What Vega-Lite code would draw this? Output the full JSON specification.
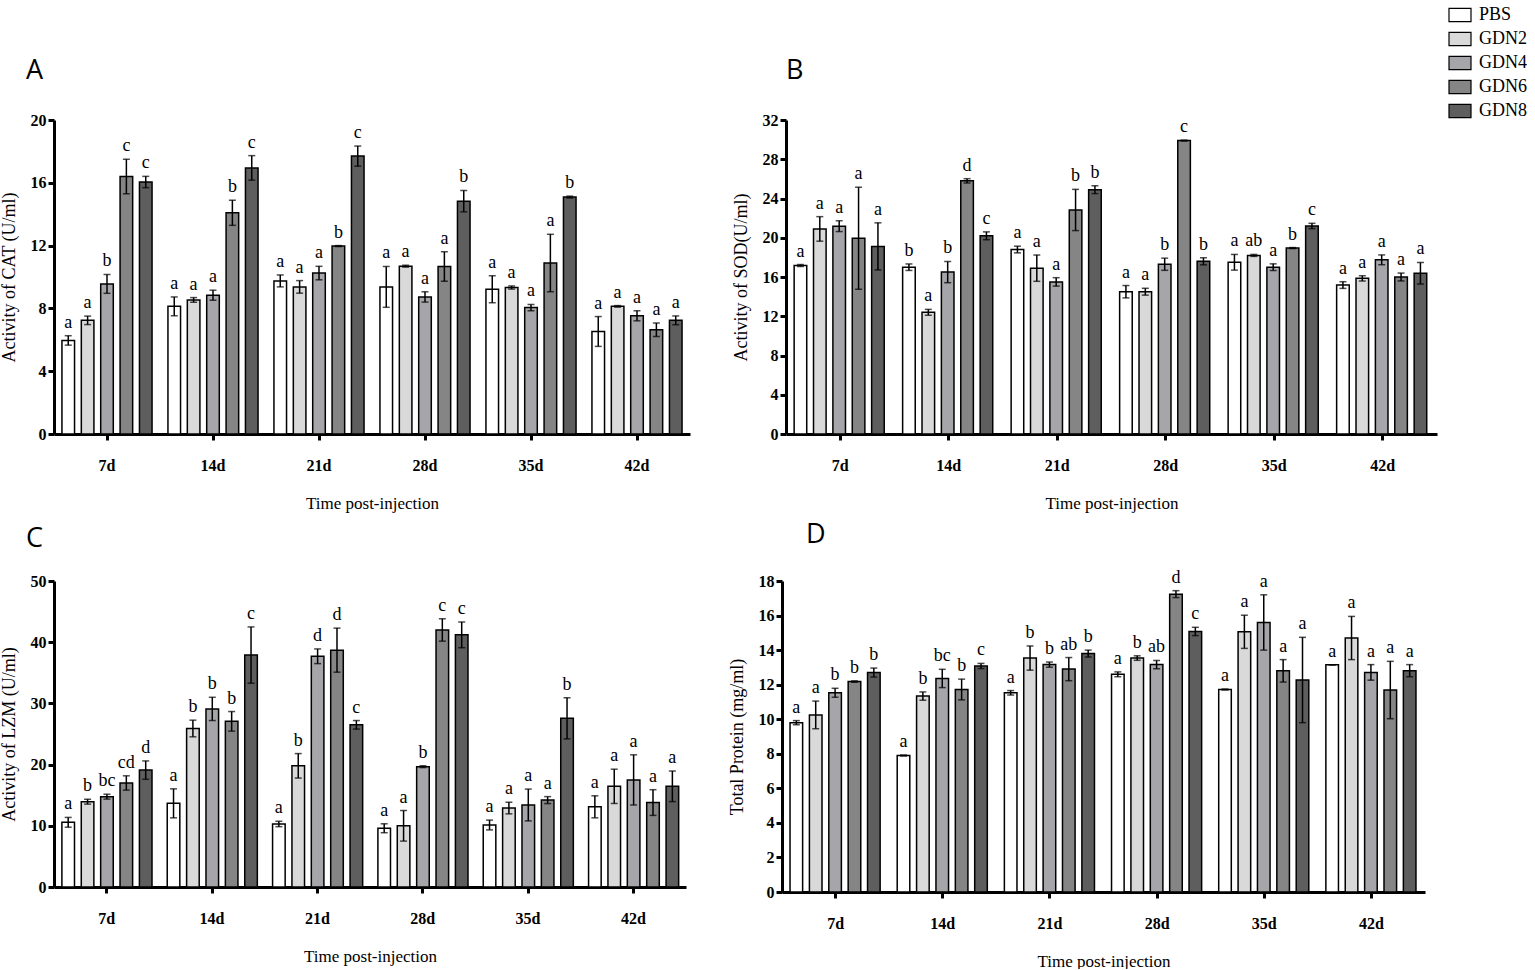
{
  "$schema": "https://vega.github.io/schema/vega-lite/v6.json",
  "background": "white",
  "padding": {"left": 0, "top": 3, "right": 0, "bottom": 0},
  "datasets": {
    "cat": [
      {"time": "7d", "group": "PBS", "mean": 5.96, "sd": 0.3, "sig": "a"},
      {"time": "7d", "group": "GDN2", "mean": 7.24, "sd": 0.27, "sig": "a"},
      {"time": "7d", "group": "GDN4", "mean": 9.56, "sd": 0.6, "sig": "b"},
      {"time": "7d", "group": "GDN6", "mean": 16.4, "sd": 1.1, "sig": "c"},
      {"time": "7d", "group": "GDN8", "mean": 16.05, "sd": 0.36, "sig": "c"},
      {"time": "14d", "group": "PBS", "mean": 8.13, "sd": 0.6, "sig": "a"},
      {"time": "14d", "group": "GDN2", "mean": 8.54, "sd": 0.15, "sig": "a"},
      {"time": "14d", "group": "GDN4", "mean": 8.84, "sd": 0.32, "sig": "a"},
      {"time": "14d", "group": "GDN6", "mean": 14.09, "sd": 0.8, "sig": "b"},
      {"time": "14d", "group": "GDN8", "mean": 16.95, "sd": 0.78, "sig": "c"},
      {"time": "21d", "group": "PBS", "mean": 9.75, "sd": 0.38, "sig": "a"},
      {"time": "21d", "group": "GDN2", "mean": 9.37, "sd": 0.4, "sig": "a"},
      {"time": "21d", "group": "GDN4", "mean": 10.25, "sd": 0.43, "sig": "a"},
      {"time": "21d", "group": "GDN6", "mean": 11.97, "sd": 0.03, "sig": "b"},
      {"time": "21d", "group": "GDN8", "mean": 17.7, "sd": 0.64, "sig": "c"},
      {"time": "28d", "group": "PBS", "mean": 9.37, "sd": 1.3, "sig": "a"},
      {"time": "28d", "group": "GDN2", "mean": 10.69, "sd": 0.06, "sig": "a"},
      {"time": "28d", "group": "GDN4", "mean": 8.73, "sd": 0.33, "sig": "a"},
      {"time": "28d", "group": "GDN6", "mean": 10.67, "sd": 0.94, "sig": "a"},
      {"time": "28d", "group": "GDN8", "mean": 14.83, "sd": 0.68, "sig": "b"},
      {"time": "35d", "group": "PBS", "mean": 9.22, "sd": 0.86, "sig": "a"},
      {"time": "35d", "group": "GDN2", "mean": 9.33, "sd": 0.1, "sig": "a"},
      {"time": "35d", "group": "GDN4", "mean": 8.05, "sd": 0.2, "sig": "a"},
      {"time": "35d", "group": "GDN6", "mean": 10.89, "sd": 1.83, "sig": "a"},
      {"time": "35d", "group": "GDN8", "mean": 15.09, "sd": 0.06, "sig": "b"},
      {"time": "42d", "group": "PBS", "mean": 6.53, "sd": 0.95, "sig": "a"},
      {"time": "42d", "group": "GDN2", "mean": 8.13, "sd": 0.05, "sig": "a"},
      {"time": "42d", "group": "GDN4", "mean": 7.53, "sd": 0.32, "sig": "a"},
      {"time": "42d", "group": "GDN6", "mean": 6.64, "sd": 0.43, "sig": "a"},
      {"time": "42d", "group": "GDN8", "mean": 7.24, "sd": 0.28, "sig": "a"}
    ],
    "sod": [
      {"time": "7d", "group": "PBS", "mean": 17.17, "sd": 0.1, "sig": "a"},
      {"time": "7d", "group": "GDN2", "mean": 20.9, "sd": 1.25, "sig": "a"},
      {"time": "7d", "group": "GDN4", "mean": 21.18, "sd": 0.55, "sig": "a"},
      {"time": "7d", "group": "GDN6", "mean": 19.95, "sd": 5.2, "sig": "a"},
      {"time": "7d", "group": "GDN8", "mean": 19.12, "sd": 2.4, "sig": "a"},
      {"time": "14d", "group": "PBS", "mean": 17.0, "sd": 0.33, "sig": "b"},
      {"time": "14d", "group": "GDN2", "mean": 12.4, "sd": 0.3, "sig": "a"},
      {"time": "14d", "group": "GDN4", "mean": 16.5, "sd": 1.08, "sig": "b"},
      {"time": "14d", "group": "GDN6", "mean": 25.8, "sd": 0.22, "sig": "d"},
      {"time": "14d", "group": "GDN8", "mean": 20.2, "sd": 0.4, "sig": "c"},
      {"time": "21d", "group": "PBS", "mean": 18.8, "sd": 0.34, "sig": "a"},
      {"time": "21d", "group": "GDN2", "mean": 16.9, "sd": 1.34, "sig": "a"},
      {"time": "21d", "group": "GDN4", "mean": 15.5, "sd": 0.43, "sig": "a"},
      {"time": "21d", "group": "GDN6", "mean": 22.83, "sd": 2.1, "sig": "b"},
      {"time": "21d", "group": "GDN8", "mean": 24.9, "sd": 0.4, "sig": "b"},
      {"time": "28d", "group": "PBS", "mean": 14.5, "sd": 0.63, "sig": "a"},
      {"time": "28d", "group": "GDN2", "mean": 14.5, "sd": 0.35, "sig": "a"},
      {"time": "28d", "group": "GDN4", "mean": 17.3, "sd": 0.62, "sig": "b"},
      {"time": "28d", "group": "GDN6", "mean": 29.9, "sd": 0.05, "sig": "c"},
      {"time": "28d", "group": "GDN8", "mean": 17.6, "sd": 0.36, "sig": "b"},
      {"time": "35d", "group": "PBS", "mean": 17.5, "sd": 0.8, "sig": "a"},
      {"time": "35d", "group": "GDN2", "mean": 18.2, "sd": 0.1, "sig": "ab"},
      {"time": "35d", "group": "GDN4", "mean": 17.0, "sd": 0.34, "sig": "a"},
      {"time": "35d", "group": "GDN6", "mean": 18.95, "sd": 0.05, "sig": "b"},
      {"time": "35d", "group": "GDN8", "mean": 21.2, "sd": 0.27, "sig": "c"},
      {"time": "42d", "group": "PBS", "mean": 15.18, "sd": 0.34, "sig": "a"},
      {"time": "42d", "group": "GDN2", "mean": 15.86, "sd": 0.27, "sig": "a"},
      {"time": "42d", "group": "GDN4", "mean": 17.75, "sd": 0.5, "sig": "a"},
      {"time": "42d", "group": "GDN6", "mean": 16.0, "sd": 0.4, "sig": "a"},
      {"time": "42d", "group": "GDN8", "mean": 16.38, "sd": 1.1, "sig": "a"}
    ],
    "lzm": [
      {"time": "7d", "group": "PBS", "mean": 10.57, "sd": 0.8, "sig": "a"},
      {"time": "7d", "group": "GDN2", "mean": 13.94, "sd": 0.4, "sig": "b"},
      {"time": "7d", "group": "GDN4", "mean": 14.76, "sd": 0.4, "sig": "bc"},
      {"time": "7d", "group": "GDN6", "mean": 17.0, "sd": 1.17, "sig": "cd"},
      {"time": "7d", "group": "GDN8", "mean": 19.1, "sd": 1.5, "sig": "d"},
      {"time": "14d", "group": "PBS", "mean": 13.67, "sd": 2.37, "sig": "a"},
      {"time": "14d", "group": "GDN2", "mean": 25.9, "sd": 1.36, "sig": "b"},
      {"time": "14d", "group": "GDN4", "mean": 29.1, "sd": 1.9, "sig": "b"},
      {"time": "14d", "group": "GDN6", "mean": 27.07, "sd": 1.6, "sig": "b"},
      {"time": "14d", "group": "GDN8", "mean": 37.9, "sd": 4.6, "sig": "c"},
      {"time": "21d", "group": "PBS", "mean": 10.3, "sd": 0.44, "sig": "a"},
      {"time": "21d", "group": "GDN2", "mean": 19.8, "sd": 2.0, "sig": "b"},
      {"time": "21d", "group": "GDN4", "mean": 37.7, "sd": 1.2, "sig": "d"},
      {"time": "21d", "group": "GDN6", "mean": 38.7, "sd": 3.6, "sig": "d"},
      {"time": "21d", "group": "GDN8", "mean": 26.5, "sd": 0.7, "sig": "c"},
      {"time": "28d", "group": "PBS", "mean": 9.6, "sd": 0.73, "sig": "a"},
      {"time": "28d", "group": "GDN2", "mean": 10.0, "sd": 2.5, "sig": "a"},
      {"time": "28d", "group": "GDN4", "mean": 19.66, "sd": 0.15, "sig": "b"},
      {"time": "28d", "group": "GDN6", "mean": 42.0, "sd": 1.83, "sig": "c"},
      {"time": "28d", "group": "GDN8", "mean": 41.2, "sd": 2.1, "sig": "c"},
      {"time": "35d", "group": "PBS", "mean": 10.13, "sd": 0.8, "sig": "a"},
      {"time": "35d", "group": "GDN2", "mean": 12.9, "sd": 0.95, "sig": "a"},
      {"time": "35d", "group": "GDN4", "mean": 13.4, "sd": 2.6, "sig": "a"},
      {"time": "35d", "group": "GDN6", "mean": 14.2, "sd": 0.57, "sig": "a"},
      {"time": "35d", "group": "GDN8", "mean": 27.56, "sd": 3.36, "sig": "b"},
      {"time": "42d", "group": "PBS", "mean": 13.1, "sd": 1.8, "sig": "a"},
      {"time": "42d", "group": "GDN2", "mean": 16.45, "sd": 2.8, "sig": "a"},
      {"time": "42d", "group": "GDN4", "mean": 17.5, "sd": 4.1, "sig": "a"},
      {"time": "42d", "group": "GDN6", "mean": 13.8, "sd": 2.1, "sig": "a"},
      {"time": "42d", "group": "GDN8", "mean": 16.45, "sd": 2.5, "sig": "a"}
    ],
    "tp": [
      {"time": "7d", "group": "PBS", "mean": 9.8, "sd": 0.12, "sig": "a"},
      {"time": "7d", "group": "GDN2", "mean": 10.25, "sd": 0.8, "sig": "a"},
      {"time": "7d", "group": "GDN4", "mean": 11.53, "sd": 0.26, "sig": "b"},
      {"time": "7d", "group": "GDN6", "mean": 12.18, "sd": 0.04, "sig": "b"},
      {"time": "7d", "group": "GDN8", "mean": 12.7, "sd": 0.26, "sig": "b"},
      {"time": "14d", "group": "PBS", "mean": 7.9, "sd": 0.03, "sig": "a"},
      {"time": "14d", "group": "GDN2", "mean": 11.34, "sd": 0.24, "sig": "b"},
      {"time": "14d", "group": "GDN4", "mean": 12.36, "sd": 0.53, "sig": "bc"},
      {"time": "14d", "group": "GDN6", "mean": 11.72, "sd": 0.6, "sig": "b"},
      {"time": "14d", "group": "GDN8", "mean": 13.08, "sd": 0.15, "sig": "c"},
      {"time": "21d", "group": "PBS", "mean": 11.53, "sd": 0.13, "sig": "a"},
      {"time": "21d", "group": "GDN2", "mean": 13.54, "sd": 0.7, "sig": "b"},
      {"time": "21d", "group": "GDN4", "mean": 13.16, "sd": 0.15, "sig": "b"},
      {"time": "21d", "group": "GDN6", "mean": 12.9, "sd": 0.67, "sig": "ab"},
      {"time": "21d", "group": "GDN8", "mean": 13.8, "sd": 0.2, "sig": "b"},
      {"time": "28d", "group": "PBS", "mean": 12.6, "sd": 0.14, "sig": "a"},
      {"time": "28d", "group": "GDN2", "mean": 13.54, "sd": 0.13, "sig": "b"},
      {"time": "28d", "group": "GDN4", "mean": 13.16, "sd": 0.24, "sig": "ab"},
      {"time": "28d", "group": "GDN6", "mean": 17.24, "sd": 0.2, "sig": "d"},
      {"time": "28d", "group": "GDN8", "mean": 15.08, "sd": 0.24, "sig": "c"},
      {"time": "35d", "group": "PBS", "mean": 11.72, "sd": 0.03, "sig": "a"},
      {"time": "35d", "group": "GDN2", "mean": 15.06, "sd": 0.96, "sig": "a"},
      {"time": "35d", "group": "GDN4", "mean": 15.6, "sd": 1.6, "sig": "a"},
      {"time": "35d", "group": "GDN6", "mean": 12.8, "sd": 0.65, "sig": "a"},
      {"time": "35d", "group": "GDN8", "mean": 12.27, "sd": 2.47, "sig": "a"},
      {"time": "42d", "group": "PBS", "mean": 13.15, "sd": 0.0, "sig": "a"},
      {"time": "42d", "group": "GDN2", "mean": 14.7, "sd": 1.25, "sig": "a"},
      {"time": "42d", "group": "GDN4", "mean": 12.71, "sd": 0.45, "sig": "a"},
      {"time": "42d", "group": "GDN6", "mean": 11.69, "sd": 1.66, "sig": "a"},
      {"time": "42d", "group": "GDN8", "mean": 12.81, "sd": 0.35, "sig": "a"}
    ]
  },
  "spacing": 9,
  "vconcat": [
    {
      "spacing": 42,
      "hconcat": [
        {
          "width": 636,
          "height": 314,
          "title": {"text": "A", "dx": -28, "offset": 27},
          "data": {"name": "cat"},
          "transform": [
            {"calculate": "datum.mean - datum.sd", "as": "lo"},
            {"calculate": "datum.mean + datum.sd", "as": "hi"}
          ],
          "encoding": {
            "x": {"field": "time", "type": "nominal", "sort": ["7d", "14d", "21d", "28d", "35d", "42d"], "title": "Time post-injection", "scale": {"paddingInner": 0.15, "paddingOuter": 0.075}},
            "xOffset": {"field": "group", "type": "nominal", "sort": ["PBS", "GDN2", "GDN4", "GDN6", "GDN8"], "scale": {"paddingInner": 0.35}}
          },
          "layer": [
            {
              "mark": {"type": "bar", "stroke": "black", "strokeWidth": 1.5},
              "encoding": {
                "y": {"field": "mean", "type": "quantitative", "title": "Activity of CAT (U/ml)", "scale": {"domain": [0, 20], "nice": false}, "axis": {"values": [0, 4, 8, 12, 16, 20]}},
                "color": {"field": "group", "type": "nominal", "title": null, "scale": {"domain": ["PBS", "GDN2", "GDN4", "GDN6", "GDN8"], "range": ["#ffffff", "#d9d9d9", "#a6a6aa", "#858585", "#5e5e5e"]}}
              }
            },
            {"mark": {"type": "rule", "strokeWidth": 1.5, "color": "black"}, "encoding": {"y": {"field": "lo", "type": "quantitative", "title": "Activity of CAT (U/ml)", "scale": {"domain": [0, 20], "nice": false}, "axis": {"values": [0, 4, 8, 12, 16, 20]}}, "y2": {"field": "hi"}}},
            {"mark": {"type": "tick", "thickness": 1.5, "size": 7, "color": "black"}, "encoding": {"y": {"field": "hi", "type": "quantitative", "title": "Activity of CAT (U/ml)", "scale": {"domain": [0, 20], "nice": false}, "axis": {"values": [0, 4, 8, 12, 16, 20]}}}},
            {"mark": {"type": "tick", "thickness": 1.5, "size": 7, "color": "black"}, "encoding": {"y": {"field": "lo", "type": "quantitative", "title": "Activity of CAT (U/ml)", "scale": {"domain": [0, 20], "nice": false}, "axis": {"values": [0, 4, 8, 12, 16, 20]}}}},
            {"mark": {"type": "text", "baseline": "bottom", "dy": -4, "fontSize": 18, "font": "Liberation Serif"}, "encoding": {"y": {"field": "hi", "type": "quantitative", "title": "Activity of CAT (U/ml)", "scale": {"domain": [0, 20], "nice": false}, "axis": {"values": [0, 4, 8, 12, 16, 20]}}, "text": {"field": "sig"}}}
          ]
        },
        {
          "width": 651,
          "height": 314,
          "title": {"text": "B", "dx": 0, "offset": 27},
          "data": {"name": "sod"},
          "transform": [
            {"calculate": "datum.mean - datum.sd", "as": "lo"},
            {"calculate": "datum.mean + datum.sd", "as": "hi"}
          ],
          "encoding": {
            "x": {"field": "time", "type": "nominal", "sort": ["7d", "14d", "21d", "28d", "35d", "42d"], "title": "Time post-injection", "scale": {"paddingInner": 0.15, "paddingOuter": 0.075}},
            "xOffset": {"field": "group", "type": "nominal", "sort": ["PBS", "GDN2", "GDN4", "GDN6", "GDN8"], "scale": {"paddingInner": 0.35}}
          },
          "layer": [
            {
              "mark": {"type": "bar", "stroke": "black", "strokeWidth": 1.5},
              "encoding": {
                "y": {"field": "mean", "type": "quantitative", "title": "Activity of SOD(U/ml)", "scale": {"domain": [0, 32], "nice": false}, "axis": {"values": [0, 4, 8, 12, 16, 20, 24, 28, 32]}},
                "color": {"field": "group", "type": "nominal", "title": null, "scale": {"domain": ["PBS", "GDN2", "GDN4", "GDN6", "GDN8"], "range": ["#ffffff", "#d9d9d9", "#a6a6aa", "#858585", "#5e5e5e"]}}
              }
            },
            {"mark": {"type": "rule", "strokeWidth": 1.5, "color": "black"}, "encoding": {"y": {"field": "lo", "type": "quantitative", "title": "Activity of SOD(U/ml)", "scale": {"domain": [0, 32], "nice": false}, "axis": {"values": [0, 4, 8, 12, 16, 20, 24, 28, 32]}}, "y2": {"field": "hi"}}},
            {"mark": {"type": "tick", "thickness": 1.5, "size": 7, "color": "black"}, "encoding": {"y": {"field": "hi", "type": "quantitative", "title": "Activity of SOD(U/ml)", "scale": {"domain": [0, 32], "nice": false}, "axis": {"values": [0, 4, 8, 12, 16, 20, 24, 28, 32]}}}},
            {"mark": {"type": "tick", "thickness": 1.5, "size": 7, "color": "black"}, "encoding": {"y": {"field": "lo", "type": "quantitative", "title": "Activity of SOD(U/ml)", "scale": {"domain": [0, 32], "nice": false}, "axis": {"values": [0, 4, 8, 12, 16, 20, 24, 28, 32]}}}},
            {"mark": {"type": "text", "baseline": "bottom", "dy": -4, "fontSize": 18, "font": "Liberation Serif"}, "encoding": {"y": {"field": "hi", "type": "quantitative", "title": "Activity of SOD(U/ml)", "scale": {"domain": [0, 32], "nice": false}, "axis": {"values": [0, 4, 8, 12, 16, 20, 24, 28, 32]}}, "text": {"field": "sig"}}}
          ]
        }
      ]
    },
    {
      "spacing": 42,
      "hconcat": [
        {
          "width": 632,
          "height": 306,
          "title": {"text": "C", "dx": -28, "offset": 20},
          "data": {"name": "lzm"},
          "transform": [
            {"calculate": "datum.mean - datum.sd", "as": "lo"},
            {"calculate": "datum.mean + datum.sd", "as": "hi"}
          ],
          "encoding": {
            "x": {"field": "time", "type": "nominal", "sort": ["7d", "14d", "21d", "28d", "35d", "42d"], "title": "Time post-injection", "scale": {"paddingInner": 0.15, "paddingOuter": 0.075}},
            "xOffset": {"field": "group", "type": "nominal", "sort": ["PBS", "GDN2", "GDN4", "GDN6", "GDN8"], "scale": {"paddingInner": 0.35}}
          },
          "layer": [
            {
              "mark": {"type": "bar", "stroke": "black", "strokeWidth": 1.5},
              "encoding": {
                "y": {"field": "mean", "type": "quantitative", "title": "Activity of LZM (U/ml)", "scale": {"domain": [0, 50], "nice": false}, "axis": {"values": [0, 10, 20, 30, 40, 50]}},
                "color": {"field": "group", "type": "nominal", "title": null, "scale": {"domain": ["PBS", "GDN2", "GDN4", "GDN6", "GDN8"], "range": ["#ffffff", "#d9d9d9", "#a6a6aa", "#858585", "#5e5e5e"]}}
              }
            },
            {"mark": {"type": "rule", "strokeWidth": 1.5, "color": "black"}, "encoding": {"y": {"field": "lo", "type": "quantitative", "title": "Activity of LZM (U/ml)", "scale": {"domain": [0, 50], "nice": false}, "axis": {"values": [0, 10, 20, 30, 40, 50]}}, "y2": {"field": "hi"}}},
            {"mark": {"type": "tick", "thickness": 1.5, "size": 7, "color": "black"}, "encoding": {"y": {"field": "hi", "type": "quantitative", "title": "Activity of LZM (U/ml)", "scale": {"domain": [0, 50], "nice": false}, "axis": {"values": [0, 10, 20, 30, 40, 50]}}}},
            {"mark": {"type": "tick", "thickness": 1.5, "size": 7, "color": "black"}, "encoding": {"y": {"field": "lo", "type": "quantitative", "title": "Activity of LZM (U/ml)", "scale": {"domain": [0, 50], "nice": false}, "axis": {"values": [0, 10, 20, 30, 40, 50]}}}},
            {"mark": {"type": "text", "baseline": "bottom", "dy": -4, "fontSize": 18, "font": "Liberation Serif"}, "encoding": {"y": {"field": "hi", "type": "quantitative", "title": "Activity of LZM (U/ml)", "scale": {"domain": [0, 50], "nice": false}, "axis": {"values": [0, 10, 20, 30, 40, 50]}}, "text": {"field": "sig"}}}
          ]
        },
        {
          "width": 643,
          "height": 311,
          "title": {"text": "D", "dx": 24, "offset": 20},
          "data": {"name": "tp"},
          "transform": [
            {"calculate": "datum.mean - datum.sd", "as": "lo"},
            {"calculate": "datum.mean + datum.sd", "as": "hi"}
          ],
          "encoding": {
            "x": {"field": "time", "type": "nominal", "sort": ["7d", "14d", "21d", "28d", "35d", "42d"], "title": "Time post-injection", "scale": {"paddingInner": 0.15, "paddingOuter": 0.075}},
            "xOffset": {"field": "group", "type": "nominal", "sort": ["PBS", "GDN2", "GDN4", "GDN6", "GDN8"], "scale": {"paddingInner": 0.35}}
          },
          "layer": [
            {
              "mark": {"type": "bar", "stroke": "black", "strokeWidth": 1.5},
              "encoding": {
                "y": {"field": "mean", "type": "quantitative", "title": "Total Protein (mg/ml)", "scale": {"domain": [0, 18], "nice": false}, "axis": {"values": [0, 2, 4, 6, 8, 10, 12, 14, 16, 18]}},
                "color": {"field": "group", "type": "nominal", "title": null, "scale": {"domain": ["PBS", "GDN2", "GDN4", "GDN6", "GDN8"], "range": ["#ffffff", "#d9d9d9", "#a6a6aa", "#858585", "#5e5e5e"]}}
              }
            },
            {"mark": {"type": "rule", "strokeWidth": 1.5, "color": "black"}, "encoding": {"y": {"field": "lo", "type": "quantitative", "title": "Total Protein (mg/ml)", "scale": {"domain": [0, 18], "nice": false}, "axis": {"values": [0, 2, 4, 6, 8, 10, 12, 14, 16, 18]}}, "y2": {"field": "hi"}}},
            {"mark": {"type": "tick", "thickness": 1.5, "size": 7, "color": "black"}, "encoding": {"y": {"field": "hi", "type": "quantitative", "title": "Total Protein (mg/ml)", "scale": {"domain": [0, 18], "nice": false}, "axis": {"values": [0, 2, 4, 6, 8, 10, 12, 14, 16, 18]}}}},
            {"mark": {"type": "tick", "thickness": 1.5, "size": 7, "color": "black"}, "encoding": {"y": {"field": "lo", "type": "quantitative", "title": "Total Protein (mg/ml)", "scale": {"domain": [0, 18], "nice": false}, "axis": {"values": [0, 2, 4, 6, 8, 10, 12, 14, 16, 18]}}}},
            {"mark": {"type": "text", "baseline": "bottom", "dy": -4, "fontSize": 18, "font": "Liberation Serif"}, "encoding": {"y": {"field": "hi", "type": "quantitative", "title": "Total Protein (mg/ml)", "scale": {"domain": [0, 18], "nice": false}, "axis": {"values": [0, 2, 4, 6, 8, 10, 12, 14, 16, 18]}}, "text": {"field": "sig"}}}
          ]
        }
      ]
    }
  ],
  "resolve": {"scale": {"color": "shared"}},
  "config": {
    "font": "Liberation Serif",
    "view": {"stroke": null},
    "axis": {
      "grid": false,
      "domainColor": "black",
      "domainWidth": 3,
      "tickColor": "black",
      "tickWidth": 3,
      "tickSize": 6,
      "labelColor": "black",
      "labelFont": "Liberation Serif",
      "labelFontSize": 16,
      "labelFontWeight": "bold",
      "labelOverlap": false,
      "titleFont": "Liberation Serif",
      "titleFontSize": 18,
      "titleFontWeight": "normal",
      "titleColor": "black"
    },
    "axisX": {"labelAngle": 0, "labelPadding": 17, "titlePadding": 22, "titleFontSize": 17},
    "axisY": {"labelPadding": 2, "titlePadding": 12},
    "title": {"anchor": "start", "frame": "group", "font": "Open Sans", "fontSize": 27, "fontWeight": "normal", "color": "black"},
    "legend": {
      "orient": "none",
      "legendX": 1394,
      "legendY": -117,
      "labelFont": "Liberation Serif",
      "labelFontSize": 18,
      "labelColor": "black",
      "symbolType": "M-1,-0.6H1V0.6H-1Z",
      "symbolSize": 484,
      "symbolStrokeColor": "black",
      "symbolStrokeWidth": 1.2,
      "rowPadding": 3,
      "labelOffset": 7
    }
  }
}
